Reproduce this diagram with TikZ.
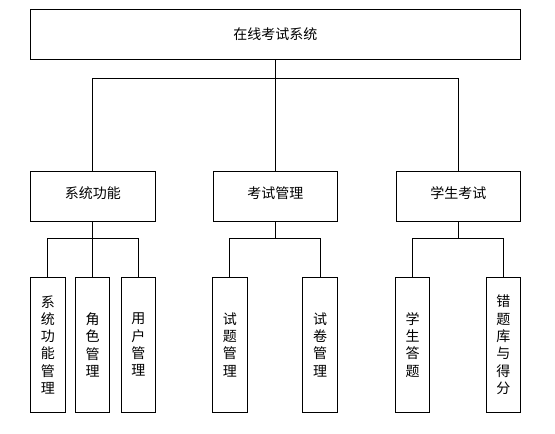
\documentclass[tikz,border=0pt]{standalone}
\usepackage{fontspec}
\setmainfont{Noto Sans CJK SC}
\begin{document}
\begin{tikzpicture}[x=1pt,y=-1pt,line width=1pt,
    box/.style={draw,inner sep=0pt,minimum width=124.5pt,minimum height=50pt,font=\fontsize{14}{17}\selectfont},
    leaf/.style={draw,inner sep=0pt,minimum width=34.5pt,minimum height=135pt,align=center,font=\fontsize{14}{17.3}\selectfont}]
        \useasboundingbox (0,0) rectangle (555,434);
        \node[box,minimum width=490pt](root)at(275.4,34.3){在线考试系统};
        \node[box,text depth=6.5pt](a)at(92.8,196){系统功能};
        \node[box,text depth=6.5pt](b)at(275.4,196){考试管理};
        \node[box,text depth=6.5pt](c)at(458.4,196){学生考试};
        \node[leaf](a1)at(47.8,344.8){系\\统\\功\\能\\管\\理};
        \node[leaf](a2)at(92.5,344.8){角\\色\\管\\理};
        \node[leaf](a3)at(138.3,344.8){用\\户\\管\\理};
        \node[leaf](b1)at(229.8,344.8){试\\题\\管\\理};
        \node[leaf](b2)at(320,344.8){试\\卷\\管\\理};
        \node[leaf](c1)at(412.5,344.8){学\\生\\答\\题};
        \node[leaf](c2)at(503.3,344.8){错\\题\\库\\与\\得\\分};
        \foreach \c in {a,b,c} \draw(root.south)--++(0,19)-|(\c.north);
        \foreach \p/\c in {a/a1,a/a2,a/a3,b/b1,b/b2,c/c1,c/c2} \draw(\p.south)--++(0,17.3)-|(\c.north);
    \end{tikzpicture}
\end{document}
